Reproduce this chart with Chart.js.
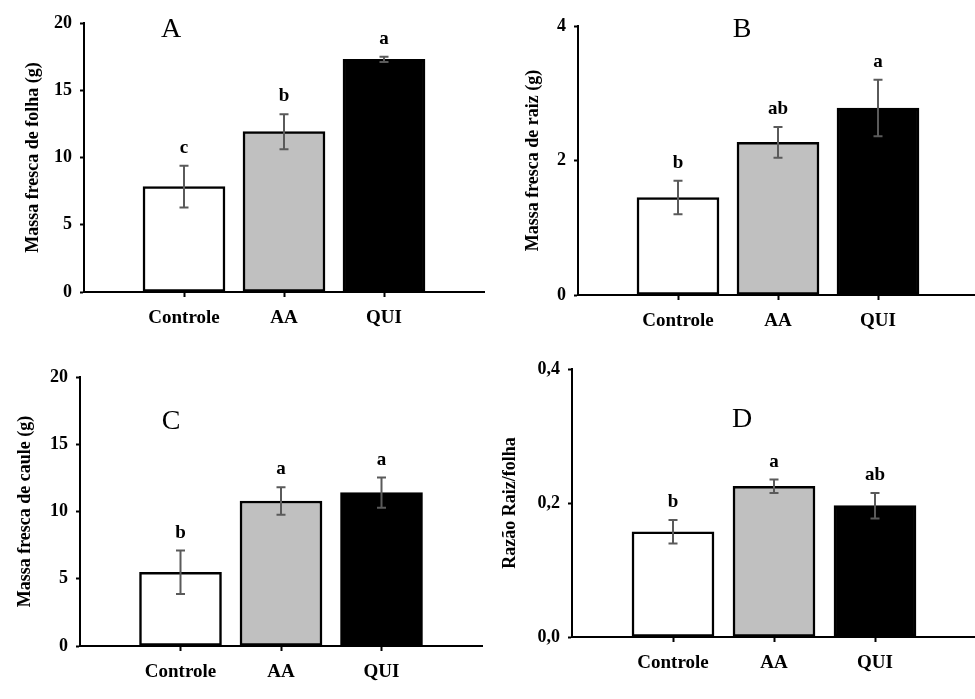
<!DOCTYPE html>
<html>
<head>
<meta charset="utf-8">
<script src="https://cdn.jsdelivr.net/npm/chart.js@4/dist/chart.umd.min.js"></script>
<style>
  html, body { margin: 0; padding: 0; background: #fff; }
  #wrap { position: relative; width: 975px; height: 699px; overflow: hidden; background: #fff; }
  #wrap canvas { position: absolute; left: 0; top: 0; }
</style>
</head>
<body>
<div id="wrap">
  <canvas id="cA" width="1000" height="699"></canvas>
  <canvas id="cB" width="1000" height="699"></canvas>
  <canvas id="cC" width="1000" height="699"></canvas>
  <canvas id="cD" width="1000" height="699"></canvas>
</div>
<script>
// ---------- data ----------
const categories = ['Controle', 'AA', 'QUI'];

const folhaMeans   = [7.83, 11.92, 17.3];
const folhaErrors  = [1.55, 1.30, 0.2];
const folhaLetters = ['c', 'b', 'a'];
const folhaTicks   = [0, 5, 10, 15, 20];
const folhaTickLabels = ['0', '5', '10', '15', '20'];

const raizMeans   = [1.45, 2.27, 2.78];
const raizErrors  = [0.25, 0.23, 0.42];
const raizLetters = ['b', 'ab', 'a'];
const raizTicks   = [0, 2, 4];
const raizTickLabels = ['0', '2', '4'];

const cauleMeans   = [5.48, 10.78, 11.4];
const cauleErrors  = [1.62, 1.02, 1.12];
const cauleLetters = ['b', 'a', 'a'];
const cauleTicks   = [0, 5, 10, 15, 20];
const cauleTickLabels = ['0', '5', '10', '15', '20'];

const razaoMeans   = [0.157, 0.225, 0.196];
const razaoErrors  = [0.0175, 0.010, 0.019];
const razaoLetters = ['b', 'a', 'ab'];
const razaoTicks   = [0, 0.2, 0.4];
const razaoTickLabels = ['0,0', '0,2', '0,4'];

// ---------- styling / layout ----------
const barColors = ['#ffffff', '#c0c0c0', '#000000'];
const CW = 1000, CH = 699, XH = 45;
const FONT = '"Liberation Serif", "Times New Roman", serif';

const panels = [
  { id: 'cA', means: folhaMeans, errs: folhaErrors, letters: folhaLetters, ticks: folhaTicks, tickLabels: folhaTickLabels,
    title: 'Massa fresca de folha (g)', tag: 'A', box: { l: 84, t: 23, r: 484, b: 292 }, padLeft: 0, titleX: 33, tagX: 171, tagY: 30 },
  { id: 'cB', means: raizMeans, errs: raizErrors, letters: raizLetters, ticks: raizTicks, tickLabels: raizTickLabels,
    title: 'Massa fresca de raiz (g)', tag: 'B', box: { l: 578, t: 26, r: 978, b: 295 }, padLeft: 480, titleX: 533, tagX: 742, tagY: 30 },
  { id: 'cC', means: cauleMeans, errs: cauleErrors, letters: cauleLetters, ticks: cauleTicks, tickLabels: cauleTickLabels,
    title: 'Massa fresca de caule (g)', tag: 'C', box: { l: 80, t: 377, r: 482, b: 646 }, padLeft: 0, titleX: 25, tagX: 171, tagY: 422 },
  { id: 'cD', means: razaoMeans, errs: razaoErrors, letters: razaoLetters, ticks: razaoTicks, tickLabels: razaoTickLabels,
    title: 'Razão Raiz/folha', tag: 'D', box: { l: 572, t: 369, r: 976, b: 637 }, padLeft: 480, titleX: 510, tagX: 742, tagY: 420 }
];

function makeAnnotPlugin(p) {
  return {
    id: 'annot_' + p.id,
    afterDatasetsDraw(chart) {
      const ctx = chart.ctx;
      const y = chart.scales.y;
      const meta = chart.getDatasetMeta(0);
      ctx.save();
      meta.data.forEach((bar, i) => {
        const top = y.getPixelForValue(p.means[i] + p.errs[i]);
        const bot = y.getPixelForValue(p.means[i] - p.errs[i]);
        const x = bar.x;
        ctx.strokeStyle = '#5a5a5a';
        ctx.lineWidth = 2;
        ctx.beginPath();
        ctx.moveTo(x, top); ctx.lineTo(x, bot);
        ctx.moveTo(x - 4.5, top); ctx.lineTo(x + 4.5, top);
        ctx.moveTo(x - 4.5, bot); ctx.lineTo(x + 4.5, bot);
        ctx.stroke();
        ctx.fillStyle = '#000';
        ctx.font = 'bold 19px ' + FONT;
        ctx.textAlign = 'center';
        ctx.textBaseline = 'alphabetic';
        ctx.fillText(p.letters[i], x, top - 13);
      });
      ctx.font = '28px ' + FONT;
      ctx.textAlign = 'center';
      ctx.textBaseline = 'middle';
      ctx.fillStyle = '#000';
      ctx.fillText(p.tag, p.tagX, p.tagY);
      ctx.restore();
    }
  };
}

panels.forEach(p => {
  const ctx = document.getElementById(p.id).getContext('2d');
  const tickFont = { family: FONT, size: 18, weight: 'bold' };
  new Chart(ctx, {
    type: 'bar',
    data: {
      datasets: [{
        data: categories.map((c, i) => ({ x: i + 1, y: p.means[i] })),
        backgroundColor: barColors,
        borderColor: '#000',
        borderWidth: 2.5,
        borderSkipped: false,
        barThickness: 82
      }]
    },
    options: {
      responsive: false,
      animation: false,
      events: [],
      layout: { padding: { left: p.padLeft, top: p.box.t, right: CW - p.box.r, bottom: CH - p.box.b - XH } },
      plugins: { legend: { display: false }, tooltip: { enabled: false } },
      scales: {
        x: {
          type: 'linear', min: 0, max: 4, offset: false,
          afterBuildTicks: s => { s.ticks = categories.map((c, i) => ({ value: i + 1 })); },
          afterFit: s => { s.height = XH; },
          ticks: { callback: (v, i) => categories[i], font: { family: FONT, size: 19, weight: 'bold' }, color: '#000', padding: 10, autoSkip: false, maxRotation: 0 },
          grid: { offset: false, drawOnChartArea: false, drawTicks: true, tickLength: 5, tickColor: '#000', tickWidth: 2 },
          border: { display: true, color: '#000', width: 2 }
        },
        y: {
          min: p.ticks[0], max: p.ticks[p.ticks.length - 1],
          afterBuildTicks: s => { s.ticks = p.ticks.map(v => ({ value: v })); },
          afterFit: s => { s.width = p.box.l - p.padLeft; },
          ticks: { callback: (v, i) => p.tickLabels[i], font: tickFont, color: '#000', padding: 8 },
          grid: { drawOnChartArea: false, drawTicks: true, tickLength: 4, tickColor: '#000', tickWidth: 2 },
          border: { display: true, color: '#000', width: 2 },
          title: { display: true, text: p.title, color: '#000', font: { family: FONT, size: 18, weight: 'bold' },
                   padding: { top: p.titleX - p.padLeft - 10.8, bottom: 0 } }
        }
      }
    },
    plugins: [makeAnnotPlugin(p)]
  });
});
</script>
</body>
</html>
